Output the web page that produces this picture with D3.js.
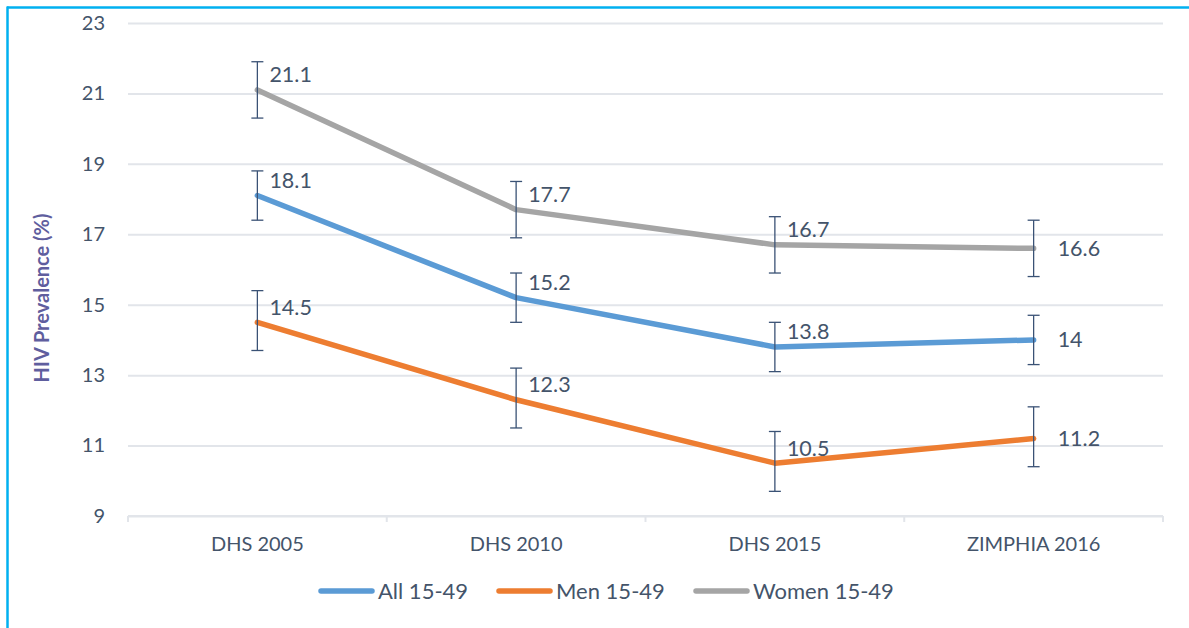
<!DOCTYPE html>
<html>
<head>
<meta charset="utf-8">
<script src="https://cdn.jsdelivr.net/npm/d3@7"></script>
<style>
  html, body { margin: 0; padding: 0; background: #fff; }
  svg { display: block; }
  text { font-family: Lato, "Open Sans", sans-serif; }
</style>
</head>
<body>
<svg id="chart" width="1189" height="628"></svg>
<script>
// ---- data ----
const categories = ["DHS 2005", "DHS 2010", "DHS 2015", "ZIMPHIA 2016"];
const seriesNames = ["All 15-49", "Men 15-49", "Women 15-49"];
const allValues   = [18.1, 15.2, 13.8, 14];
const allLower    = [17.4, 14.5, 13.1, 13.3];
const allUpper    = [18.8, 15.9, 14.5, 14.7];
const menValues   = [14.5, 12.3, 10.5, 11.2];
const menLower    = [13.7, 11.5, 9.7, 10.4];
const menUpper    = [15.4, 13.2, 11.4, 12.1];
const womenValues = [21.1, 17.7, 16.7, 16.6];
const womenLower  = [20.3, 16.9, 15.9, 15.8];
const womenUpper  = [21.9, 18.5, 17.5, 17.4];
const yTicks = [9, 11, 13, 15, 17, 19, 21, 23];
const yTitle = "HIV Prevalence (%)";

// ---- build ----
(function () {
const colors = ["#5B9BD5", "#ED7D31", "#A5A5A5"];
const series = [
  { name: seriesNames[0], values: allValues, lo: allLower, hi: allUpper, color: colors[0] },
  { name: seriesNames[1], values: menValues, lo: menLower, hi: menUpper, color: colors[1] },
  { name: seriesNames[2], values: womenValues, lo: womenLower, hi: womenUpper, color: colors[2] }
];

const svg = d3.select("#chart");
const textColor = "#44546A";
const pLeft = 128, pRight = 1163, pTop = 23, pBottom = 516;

const x = d3.scaleBand().domain(categories).range([pLeft, pRight]);
const y = d3.scaleLinear().domain([9, 23]).range([pBottom, pTop]);
const cx = c => x(c) + x.bandwidth() / 2;

// border (top and left)
svg.append("line").attr("x1", 7).attr("x2", 1189).attr("y1", 7.5).attr("y2", 7.5)
  .attr("stroke", "#00B0F0").attr("stroke-width", 2.5);
svg.append("line").attr("x1", 7.5).attr("x2", 7.5).attr("y1", 6.5).attr("y2", 628)
  .attr("stroke", "#00B0F0").attr("stroke-width", 2.5);

// gridlines
const gy = svg.append("g").attr("transform", `translate(${pLeft},0)`)
  .call(d3.axisLeft(y).tickValues(yTicks).tickSize(-(pRight - pLeft)).tickFormat(d => d).tickPadding(23));
gy.select(".domain").remove();
gy.selectAll(".tick line").attr("stroke", "#E2E5EA").attr("stroke-width", 2);
gy.selectAll(".tick text").attr("fill", textColor).attr("font-size", 20)
  .attr("font-family", "Lato, 'Open Sans', sans-serif");

// x axis
const gx = svg.append("g").attr("transform", `translate(0,${pBottom})`)
  .call(d3.axisBottom(x).tickSize(0).tickPadding(21));
gx.select(".domain").attr("stroke", "#E2E5EA").attr("stroke-width", 2).attr("d", `M${pLeft},0H${pRight}`);
gx.selectAll(".tick text").attr("fill", textColor).attr("font-size", 20)
  .attr("font-family", "Lato, 'Open Sans', sans-serif");
// band-edge ticks
const edges = categories.map(c => x(c)).concat([pRight]);
svg.append("g").selectAll("line").data(edges).join("line")
  .attr("x1", d => d).attr("x2", d => d).attr("y1", pBottom).attr("y2", pBottom + 6)
  .attr("stroke", "#E2E5EA").attr("stroke-width", 2);

// y title
svg.append("text")
  .attr("transform", `translate(49,298) rotate(-90)`)
  .attr("text-anchor", "middle")
  .attr("fill", "#5F5E9E").attr("font-weight", "bold").attr("font-size", 20)
  .text(yTitle);

// lines
const line = d3.line().x(d => cx(d.c)).y(d => y(d.v));
series.forEach(s => {
  const pts = categories.map((c, i) => ({ c, v: s.values[i] }));
  svg.append("path").datum(pts).attr("d", line)
    .attr("fill", "none").attr("stroke", s.color).attr("stroke-width", 5.5)
    .attr("stroke-linecap", "round").attr("stroke-linejoin", "round");
});

// error bars
const ebColor = "#3A5275";
series.forEach(s => {
  const g = svg.append("g");
  categories.forEach((c, i) => {
    const xx = cx(c);
    g.append("line").attr("x1", xx).attr("x2", xx).attr("y1", y(s.lo[i])).attr("y2", y(s.hi[i]))
      .attr("stroke", ebColor).attr("stroke-width", 1.3);
    [s.lo[i], s.hi[i]].forEach(v => {
      g.append("line").attr("x1", xx - 6).attr("x2", xx + 6).attr("y1", y(v)).attr("y2", y(v))
        .attr("stroke", ebColor).attr("stroke-width", 1.3);
    });
  });
});

// data labels
series.forEach(s => {
  categories.forEach((c, i) => {
    const last = i === categories.length - 1;
    svg.append("text")
      .attr("x", cx(c) + (last ? 24 : 12))
      .attr("y", y(s.values[i]) + (last ? 0 : -15))
      .attr("dy", "0.35em")
      .attr("fill", textColor).attr("font-size", 21.5)
      .text(s.values[i]);
  });
});

// legend
const legendX = [318, 496, 693];
const lg = svg.append("g");
series.forEach((s, i) => {
  lg.append("line").attr("x1", legendX[i] + 3).attr("x2", legendX[i] + 54)
    .attr("y1", 591).attr("y2", 591)
    .attr("stroke", s.color).attr("stroke-width", 5.5).attr("stroke-linecap", "round");
  lg.append("text").attr("x", legendX[i] + 60).attr("y", 591).attr("dy", "0.35em")
    .attr("fill", textColor).attr("font-size", 22).text(s.name);
});
})();
</script>
</body>
</html>
